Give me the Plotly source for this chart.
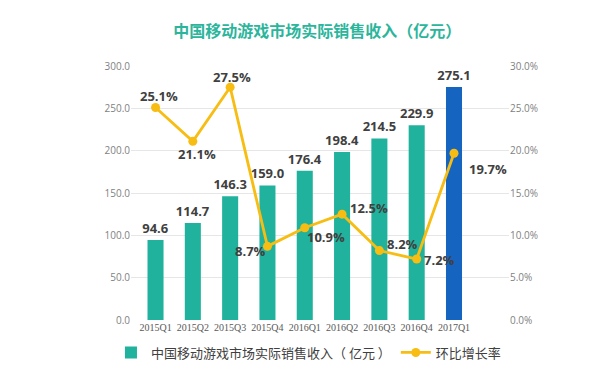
import plotly.graph_objects as go

quarters = ["2015Q1", "2015Q2", "2015Q3", "2015Q4", "2016Q1", "2016Q2", "2016Q3", "2016Q4", "2017Q1"]
revenue = [94.6, 114.7, 146.3, 159.0, 176.4, 198.4, 214.5, 229.9, 275.1]
growth = [25.1, 21.1, 27.5, 8.7, 10.9, 12.5, 8.2, 7.2, 19.7]

# label offsets (pixels) for the growth-rate labels
label_dx = [3, 4, 2, -17, 21, 27, 23, 23, 34]
label_dy = [-11, 13, -10, 5, 9, -6, -7, 1, 16]

teal = "#20b29c"
blue = "#1565c0"
gold = "#f7bd13"
bar_colors = [teal] * 8 + [blue]
FONT = "Open Sans, Noto Sans CJK SC, sans-serif"

fig = go.Figure()
fig.add_trace(go.Bar(
    x=quarters, y=revenue, name="中国移动游戏市场实际销售收入（ 亿元 ）",
    marker=dict(color=bar_colors, line=dict(width=0)),
    text=[f"{v:.1f}" for v in revenue], textposition="outside",
    constraintext="none",
    textfont=dict(size=13, color="#404040", family=FONT, weight="bold"),
    cliponaxis=False,
))
fig.add_trace(go.Scatter(
    x=quarters, y=growth, name="环比增长率", yaxis="y2",
    mode="lines+markers",
    line=dict(color=gold, width=2.8),
    marker=dict(color=gold, size=9),
    cliponaxis=False,
))

for q, g, dx, dy in zip(quarters, growth, label_dx, label_dy):
    fig.add_annotation(
        x=q, y=g, xref="x", yref="y2", text=f"<b>{g:.1f}%</b>", showarrow=False,
        xshift=dx, yshift=-dy, xanchor="center", yanchor="middle",
        font=dict(size=13, color="#404040", family=FONT),
    )

fig.update_layout(
    width=610, height=366,
    margin=dict(l=123, r=109, t=58, b=54, autoexpand=False),
    paper_bgcolor="white", plot_bgcolor="white",
    font=dict(family=FONT, color="#595959"),
    title=dict(text="<b>中国移动游戏市场实际销售收入（亿元）</b>", x=0.507, xanchor="center",
               y=0.937, yanchor="middle",
               font=dict(size=16, color="#2bb59b", family="Noto Sans CJK SC, sans-serif")),
    xaxis=dict(showgrid=False, showline=False, ticks="", automargin=False,
               tickfont=dict(size=10, color="#595959", family="Liberation Serif, serif")),
    yaxis=dict(range=[0, 300], dtick=50, tickformat=".1f", showgrid=True, gridcolor="#e6e6e6",
               zeroline=False, tickfont=dict(size=10, color="#7f7f7f"), ticklen=0,
               automargin=False),
    yaxis2=dict(range=[0, 30], dtick=5, tickformat=".1f", ticksuffix="%", overlaying="y",
                side="right", showgrid=False, zeroline=False, automargin=False,
                tickfont=dict(size=10, color="#7f7f7f")),
    legend=dict(orientation="h", x=-0.053, xanchor="left",
                y=-0.128, yanchor="middle",
                font=dict(size=13, color="#404040", family="Noto Sans CJK SC, sans-serif"),
                itemwidth=30, bgcolor="rgba(0,0,0,0)"),
    bargap=0.57,
    showlegend=True,
)

fig.write_html("out.html")
